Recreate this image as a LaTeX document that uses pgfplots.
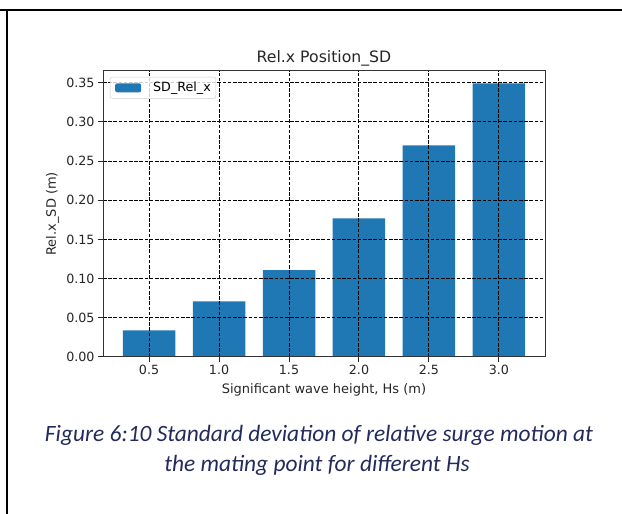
\documentclass[border=0pt]{standalone}
\usepackage{pgfplots}
\pgfplotsset{compat=1.18}
\usepackage{fontspec}
\setmainfont{DejaVu Sans}
\newfontfamily\capfont{Carlito}
\definecolor{barblue}{HTML}{1F77B4}
\definecolor{capcol}{HTML}{232B5C}
\pgfplotstableread{
x y
0.5 0.034
1.0 0.071
1.5 0.1108
2.0 0.177
2.5 0.270
3.0 0.349
}\sddata
\begin{document}
\begin{tikzpicture}[x=1pt,y=1pt]
\path[use as bounding box] (0,0) rectangle (622,514);
\draw[line width=1.6pt] (0,504) -- (622,504);
\draw[line width=1.6pt] (7,504.8) -- (7,0);
\begin{axis}[
  at={(103pt,157pt)}, anchor=south west,
  scale only axis, width=442pt, height=286.3pt,
  xmin=0.171, xmax=3.329, ymin=0, ymax=0.3653,
  xtick={0.5,1.0,1.5,2.0,2.5,3.0},
  xticklabels={0.5,1.0,1.5,2.0,2.5,3.0},
  ytick={0,0.05,0.10,0.15,0.20,0.25,0.30,0.35},
  yticklabels={0.00,0.05,0.10,0.15,0.20,0.25,0.30,0.35},
  tick align=outside, tick pos=left,
  major tick length=4.9pt,
  every tick/.style={black!85, line width=1pt},
  axis line style={black!80, line width=1pt},
  tick label style={font=\fontsize{12.7}{14}\selectfont, text=black!85},
  xmajorgrids, ymajorgrids,
  grid style={black, line width=1pt, dash pattern=on 3.6pt off 1.6pt},
  axis on top,
  title={Rel.x Position\_SD},
  every axis title/.style={font=\fontsize{15.7}{17}\selectfont, text=black!85, at={(axis description cs:0.5,1.0269)}, anchor=base},
  xlabel={Significant wave height, Hs (m)},
  ylabel={Rel.x\_SD (m)},
  every axis x label/.style={font=\fontsize{13}{14}\selectfont, text=black!85, at={(axis description cs:0.5,-0.129)}, anchor=base},
  every axis y label/.style={font=\fontsize{13}{14}\selectfont, text=black!85, at={(axis description cs:-0.1146,0.5)}, rotate=90, anchor=center},
  legend style={at={(axis description cs:0.0158,0.978)}, anchor=north west,
    draw=black!20, rounded corners=2pt, fill=white, fill opacity=0.8, text opacity=1,
    font=\fontsize{12.7}{14}\selectfont, inner xsep=5pt, inner ysep=5pt, column sep=12pt,
    nodes={inner sep=0pt, anchor=base west}},
  legend image code/.code={\fill[barblue, fill opacity=1] (0pt,-0.5pt) rectangle (26pt,8.5pt);},
]
\addplot[ybar, bar width=0.375, fill=barblue, draw=none] table[x=x,y=y] {\sddata};
\addlegendentry{SD\_Rel\_x}
\end{axis}
\node[font=\capfont\itshape\fontsize{23.4}{26}\selectfont, text=capcol, anchor=base] at (319,72) {Figure 6:10 Standard deviation of relative surge motion at};
\node[font=\capfont\itshape\fontsize{23.4}{26}\selectfont, text=capcol, anchor=base] at (317,42) {the mating point for different Hs};
\end{tikzpicture}
\end{document}
